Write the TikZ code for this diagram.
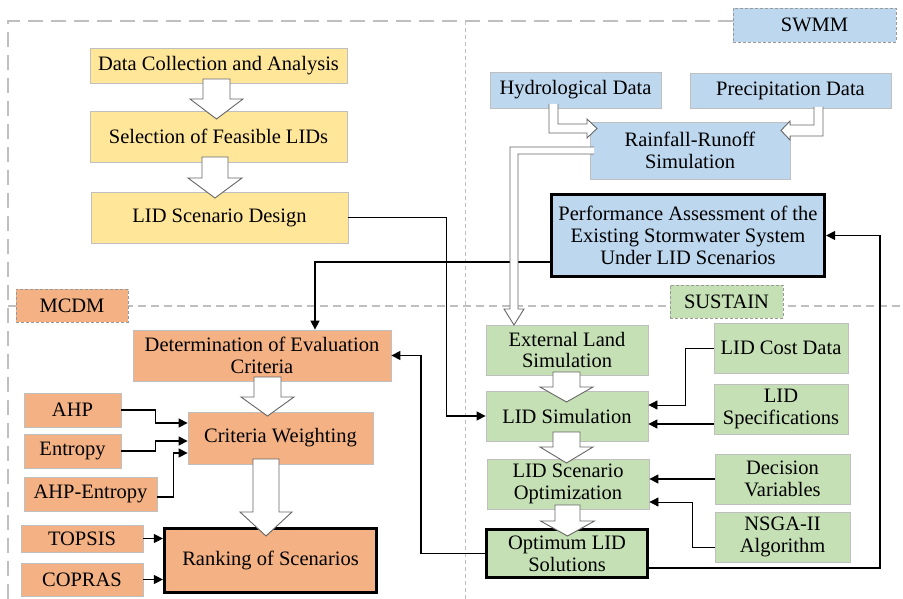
\documentclass[tikz,border=0pt]{standalone}
\usepackage{fontspec}
\setmainfont{LiberationSerif}[Extension=.ttf, UprightFont=*-Regular, BoldFont=*-Bold, ItalicFont=*-Italic, BoldItalicFont=*-BoldItalic]
\usetikzlibrary{arrows.meta}
\definecolor{yel}{HTML}{FFE699}
\definecolor{blu}{HTML}{BDD7EE}
\definecolor{ora}{HTML}{F4B183}
\definecolor{grn}{HTML}{C5E0B4}
\definecolor{frame}{HTML}{BFBFBF}
\definecolor{bord}{HTML}{BFBFBF}
\newcommand\blkdown[6]{%
 \filldraw[blk] (#1-#5,#2) -- (#1-#5,#3) -- (#1-#6,#3) -- (#1,#4) -- (#1+#6,#3) -- (#1+#5,#3) -- (#1+#5,#2) -- cycle;}
\tikzset{
 base/.style={draw=bord, line width=0.8pt, align=center, inner sep=2pt,
   font=\rmfamily\fontsize{20.5pt}{21.7pt}\selectfont},
 ybox/.style={base, fill=yel},
 bbox/.style={base, fill=blu},
 obox/.style={base, fill=ora},
 gbox/.style={base, fill=grn},
 heavy/.style={draw=black, line width=3.2pt},
 lbl/.style={dash pattern=on 3pt off 2pt, draw=black!40},
 arr/.style={-{Triangle[length=9pt,width=9pt]}, line width=1.3pt},
 arrg/.style={-{Triangle[length=9pt,width=9pt]}, line width=0.8pt},
 blk/.style={fill=white, draw=black!60, line width=0.9pt, line join=miter},
}
\begin{document}
\begin{tikzpicture}[x=1pt,y=-1pt]
\useasboundingbox[fill=white] (0,0) rectangle (903,599);
% dashed frames
\draw[frame, line width=1.3pt, dash pattern=on 15pt off 8pt] (8,599) -- (8,21) -- (733,21);
\draw[frame, line width=0.9pt, dash pattern=on 4pt off 3pt] (465,21) -- (465,599);
\draw[frame, line width=1.2pt, dash pattern=on 8pt off 5pt] (8,306) -- (903,306);
% yellow
\node[ybox, minimum width=257pt, minimum height=35pt] (dca) at (218.5,65.5) {Data Collection and Analysis};
\node[ybox, minimum width=257pt, minimum height=51pt] (sel) at (218.5,136.5) {Selection of Feasible LIDs};
\node[ybox, minimum width=257pt, minimum height=51pt] (lsd) at (219.5,217.5) {LID Scenario Design};
% blue
\node[bbox, lbl, minimum width=163pt, minimum height=34pt] (swmm) at (814.5,25) {SWMM};
\node[bbox, minimum width=171pt, minimum height=36pt] (hyd) at (575.5,90) {Hydrological Data};
\node[bbox, minimum width=201pt, minimum height=35pt] (pre) at (790.5,90.5) {Precipitation Data};
\node[bbox, minimum width=200pt, minimum height=57pt] (rrs) at (690,150.5) {Rainfall-Runoff\\Simulation};
\node[bbox, heavy, minimum width=273pt, minimum height=82pt] (perf) at (688,235.5) {Performance Assessment of the\\Existing Stormwater System\\Under LID Scenarios};
% orange
\node[obox, lbl, minimum width=112pt, minimum height=33pt] (mcdm) at (72,305.5) {MCDM};
\node[obox, minimum width=258pt, minimum height=51pt] (det) at (262,355.5) {Determination of Evaluation\\Criteria};
\node[obox, minimum width=97pt, minimum height=34pt] (ahp) at (72.5,410) {AHP};
\node[obox, minimum width=97pt, minimum height=34pt] (ent) at (72.5,451) {Entropy};
\node[obox, minimum width=133pt, minimum height=34pt] (ae) at (90.5,494) {AHP-Entropy};
\node[obox, minimum width=185pt, minimum height=52pt] (cw) at (280.5,438) {Criteria Weighting};
\node[obox, minimum width=122pt, minimum height=27pt] (top) at (82,538.5) {TOPSIS};
\node[obox, minimum width=122pt, minimum height=33pt] (cop) at (82,579.5) {COPRAS};
\node[obox, heavy, minimum width=212pt, minimum height=64pt] (rank) at (270.5,560.5) {Ranking of Scenarios};
% green
\node[gbox, lbl, minimum width=113pt, minimum height=33pt] (sus) at (726.5,301.5) {SUSTAIN};
\node[gbox, minimum width=162pt, minimum height=50pt] (ext) at (567,350) {External Land\\Simulation};
\node[gbox, minimum width=162pt, minimum height=50pt] (lsim) at (567,416) {LID Simulation};
\node[gbox, minimum width=162pt, minimum height=50pt] (lso) at (568,484) {LID Scenario\\Optimization};
\node[gbox, heavy, minimum width=161pt, minimum height=48pt] (opt) at (567,553.5) {Optimum LID\\Solutions};
\node[gbox, minimum width=134pt, minimum height=50pt] (cost) at (781,348) {LID Cost Data};
\node[gbox, minimum width=134pt, minimum height=50pt] (spec) at (781,409) {LID\\Specifications};
\node[gbox, minimum width=135pt, minimum height=50pt] (dv) at (782.5,479) {Decision\\Variables};
\node[gbox, minimum width=135pt, minimum height=50pt] (nsga) at (782.5,537) {NSGA-II\\Algorithm};
% connectors
\draw[arr] (lsd.east) -- ++(98,0) |- (lsim.west);
\draw[arr] ([yshift=-26.5pt]perf.west) -| ([xshift=53pt]det.north);
\draw[arr] (opt.west) -- ++(-64,0) |- (det.east);
\draw[arr] ([yshift=-14.5pt]opt.east) -| ([xshift=54pt]perf.east) -- (perf.east);
\draw[arr] (ahp.east) -- ++(34,0) |- ([yshift=15pt]cw.west);
\draw[arr] (ent.east) -- ++(34,0) |- ([yshift=-3pt]cw.west);
\draw[arr] ([yshift=-3pt]ae.east) -- ++(16,0) |- ([yshift=-15pt]cw.west);
\draw[arr] (top.east) -- (top.east -| rank.west);
\draw[arr] (cop.east) -- (cop.east -| rank.west);
\draw[arrg] (cost.west) -- ++(-28,0) |- ([yshift=11pt]lsim.east);
\draw[arr] ([yshift=-15pt]spec.west) -- ([yshift=-15pt]spec.west -| lsim.east);
\draw[arr] (dv.west) -- (dv.west -| lso.east);
\draw[arrg] ([yshift=-10pt]nsga.west) -- ++(-22,0) |- ([yshift=-18pt]lso.east);
% block arrows
\blkdown{216.5}{79}{99}{119}{13.5}{26.5}
\blkdown{215}{157}{178}{198}{13}{27}
\blkdown{267.5}{377}{397}{416}{13.5}{26.5}
\blkdown{266}{459}{512}{536}{13}{26}
\blkdown{566.5}{372}{387}{402}{13.5}{26.5}
\blkdown{566.5}{432}{447}{463}{13.5}{26.5}
\blkdown{567.5}{505}{521}{536}{12.5}{27}
\filldraw[blk] (549,104) -- (549,133) -- (587,133) -- (587,138) -- (597,128.5) -- (587,119) -- (587,124) -- (558,124) -- (558,104);
\filldraw[blk] (823,107) -- (823,136) -- (790,136) -- (790,140) -- (781,130.5) -- (790,121) -- (790,125) -- (814,125) -- (814,107);
\filldraw[blk] (594,147) -- (510,147) -- (510,309) -- (504,309) -- (514,325) -- (524,309) -- (518,309) -- (518,154) -- (594,154);
\end{tikzpicture}
\end{document}
